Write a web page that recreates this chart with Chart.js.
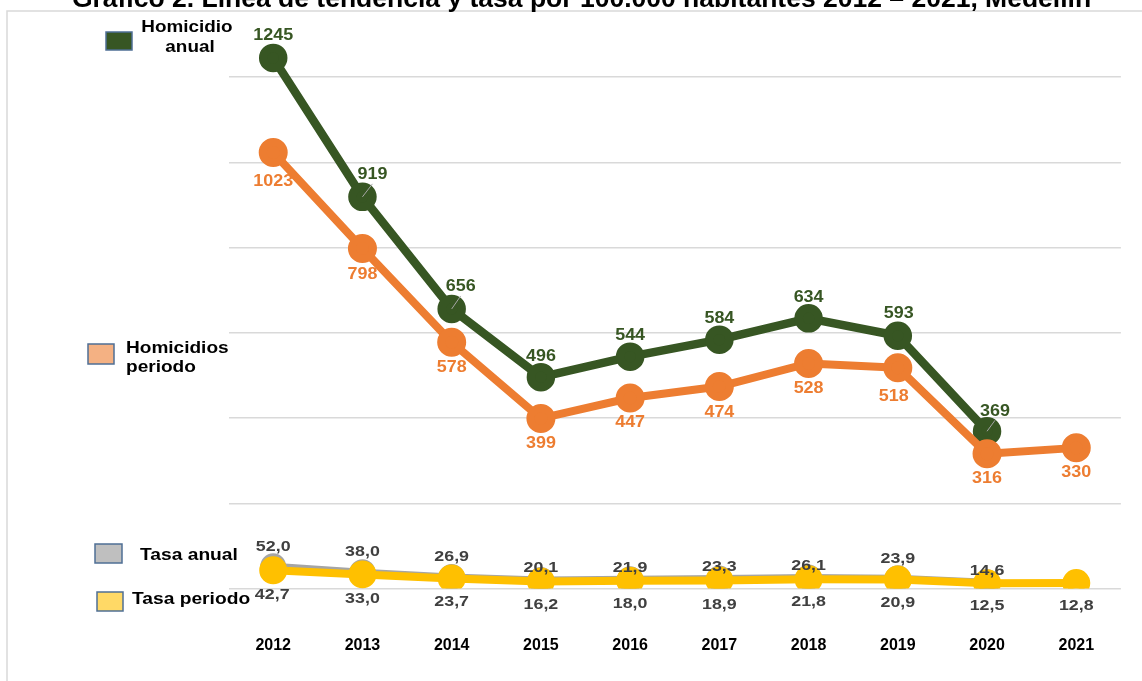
<!DOCTYPE html>
<html>
<head>
<meta charset="utf-8">
<script src="https://cdn.jsdelivr.net/npm/chart.js@4.4.1/dist/chart.umd.min.js"></script>
<style>
  html, body { margin: 0; padding: 0; background: #fff; }
  #wrap { width: 1142px; height: 681px; }
</style>
</head>
<body>
<div id="wrap"><canvas id="homicidiosChart" width="1142" height="681"></canvas></div>
<script>
// Datos
const years = ['2012', '2013', '2014', '2015', '2016', '2017', '2018', '2019', '2020', '2021'];
const homicidioAnual = [1245, 919, 656, 496, 544, 584, 634, 593, 369, null];
const homicidiosPeriodo = [1023, 798, 578, 399, 447, 474, 528, 518, 316, 330];
const tasaAnual = [52.0, 38.0, 26.9, 20.1, 21.9, 23.3, 26.1, 23.9, 14.6, null];
const tasaPeriodo = [42.7, 33.0, 23.7, 16.2, 18.0, 18.9, 21.8, 20.9, 12.5, 12.8];

const titulo = 'Gráfico 2. Línea de tendencia y tasa por 100.000 habitantes 2012 – 2021, Medellín';

const fmt = v => v >= 100 ? String(v) : v.toFixed(1).replace('.', ',');

// texto ensanchado horizontalmente (el original está estirado)
function wideText(ctx, text, x, y, sx) {
    ctx.save();
    ctx.translate(x, y);
    ctx.scale(sx, 1);
    ctx.fillText(text, 0, 0);
    ctx.restore();
}

// Etiquetas de datos: color, fuente y desplazamiento respecto al punto
const labelCfg = [
    { color: '#375623', font: 'bold 16px "Liberation Sans"', sx: 1.12,
      dx: [0, 10, 9, 0, 0, 0, 0, 1, 8, 0], dy: [-22, -22, -22, -21, -21, -21, -21, -22, -20, 0], leader: true },
    { color: '#ED7D31', font: 'bold 16px "Liberation Sans"', sx: 1.12,
      dx: [0, 0, 0, 0, 0, 0, 0, -4, 0, 0], dy: [29, 26, 25, 25, 25, 26, 25, 29, 25, 25] },
    { color: '#404040', font: 'bold 15.5px "Liberation Sans"', sx: 1.15,
      dx: [0, 0, 0, 0, 0, 0, 0, 0, 0, 0], dy: [-20, -21, -20, -12, -11, -12, -12, -20, -12, 0] },
    { color: '#404040', font: 'bold 15.5px "Liberation Sans"', sx: 1.15,
      dx: [-1, 0, 0, 0, 0, 0, 0, 0, 0, 0], dy: [24, 24, 23, 23, 23, 24, 23, 23, 23, 23] }
];

const dataLabels = {
    id: 'dataLabels',
    afterDatasetsDraw(chart) {
        const ctx = chart.ctx;
        ctx.save();
        ctx.textAlign = 'center';
        ctx.textBaseline = 'middle';
        chart.data.datasets.forEach((ds, i) => {
            const meta = chart.getDatasetMeta(i);
            const cfg = labelCfg[i];
            meta.data.forEach((pt, j) => {
                const v = ds.data[j];
                if (v === null) return;
                const lx = pt.x + cfg.dx[j];
                const ly = pt.y + cfg.dy[j];
                if (cfg.leader && cfg.dx[j] > 3) {
                    ctx.strokeStyle = '#A6A6A6';
                    ctx.lineWidth = 1;
                    ctx.beginPath();
                    ctx.moveTo(pt.x, pt.y);
                    ctx.lineTo(lx, ly + 9);
                    ctx.stroke();
                }
                ctx.fillStyle = cfg.color;
                ctx.font = cfg.font;
                wideText(ctx, fmt(v), lx, ly, cfg.sx);
            });
        });
        ctx.restore();
    }
};

// Título (recortado arriba), marco y leyenda a la izquierda
const decor = {
    id: 'decor',
    beforeDraw(chart) {
        const ctx = chart.ctx;
        ctx.save();
        ctx.strokeStyle = '#D9D9D9';
        ctx.lineWidth = 1.5;
        ctx.beginPath();
        ctx.moveTo(7, 700);
        ctx.lineTo(7, 11);
        ctx.lineTo(1160, 11);
        ctx.stroke();

        ctx.fillStyle = '#000';
        ctx.font = 'bold 26.5px "Liberation Sans"';
        ctx.textAlign = 'center';
        ctx.textBaseline = 'alphabetic';
        ctx.fillText(titulo, 581.5, 7);
        ctx.restore();
    },
    afterDraw(chart) {
        const ctx = chart.ctx;
        ctx.save();
        const box = (x, y, w, h, fill) => {
            ctx.fillStyle = fill;
            ctx.fillRect(x, y, w, h);
            ctx.strokeStyle = '#4F6F95';
            ctx.lineWidth = 1.5;
            ctx.strokeRect(x, y, w, h);
            ctx.fillStyle = '#000';
        };
        ctx.textBaseline = 'middle';

        box(106, 32, 26, 18, '#375623');
        ctx.font = 'bold 16px "Liberation Sans"';
        ctx.textAlign = 'center';
        wideText(ctx, 'Homicidio', 187, 28, 1.18);
        wideText(ctx, 'anual', 190, 48, 1.18);

        box(88, 344, 26, 20, '#F4B183');
        ctx.textAlign = 'left';
        wideText(ctx, 'Homicidios', 126, 349, 1.19);
        wideText(ctx, 'periodo', 126, 368, 1.19);

        ctx.font = 'bold 17px "Liberation Sans"';
        box(95, 544, 27, 19, '#BFBFBF');
        wideText(ctx, 'Tasa anual', 140, 555, 1.13);

        box(97, 592, 26, 19, '#FFD966');
        wideText(ctx, 'Tasa periodo', 132, 599, 1.13);
        ctx.restore();
    }
};

new Chart(document.getElementById('homicidiosChart').getContext('2d'), {
    type: 'line',
    data: {
        labels: years,
        datasets: [
            {
                label: 'Homicidio anual',
                data: homicidioAnual,
                borderColor: '#375623',
                backgroundColor: '#375623',
                borderWidth: 8.5,
                pointRadius: 10,
                order: 2
            },
            {
                label: 'Homicidios periodo',
                data: homicidiosPeriodo,
                borderColor: '#ED7D31',
                backgroundColor: '#ED7D31',
                borderWidth: 8,
                pointRadius: 10.5,
                order: 1
            },
            {
                label: 'Tasa anual',
                data: tasaAnual,
                borderColor: '#A5A5A5',
                backgroundColor: '#A5A5A5',
                borderWidth: 7,
                pointRadius: 9.5,
                order: 4
            },
            {
                label: 'Tasa periodo',
                data: tasaPeriodo,
                borderColor: '#FFC000',
                backgroundColor: '#FFC000',
                borderWidth: 8,
                pointRadius: 10,
                order: 3
            }
        ]
    },
    options: {
        responsive: false,
        animation: false,
        layout: { padding: { left: 228.6, right: 15.6, top: 34.5, bottom: 0 } },
        plugins: {
            legend: { display: false },
            title: { display: false },
            tooltip: { enabled: false }
        },
        elements: {
            line: { tension: 0, borderCapStyle: 'round', borderJoinStyle: 'round' },
            point: { borderWidth: 0, hoverRadius: 10 }
        },
        scales: {
            x: {
                offset: true,
                grid: { display: false, drawTicks: false },
                border: { display: false },
                afterFit: scale => { scale.height = 92.5; },
                ticks: {
                    color: '#000',
                    padding: 47,
                    font: { family: 'Liberation Sans', size: 16, weight: 'bold' }
                }
            },
            y: {
                display: true,
                min: 0,
                max: 1300,
                afterBuildTicks: axis => {
                    axis.ticks = axis.ticks.filter(t => t.value % 200 === 0);
                },
                ticks: { display: false, stepSize: 200 },
                grid: { color: '#D9D9D9', lineWidth: 1.5, drawTicks: false },
                border: { display: false }
            }
        }
    },
    plugins: [decor, dataLabels]
});
</script>
</body>
</html>
